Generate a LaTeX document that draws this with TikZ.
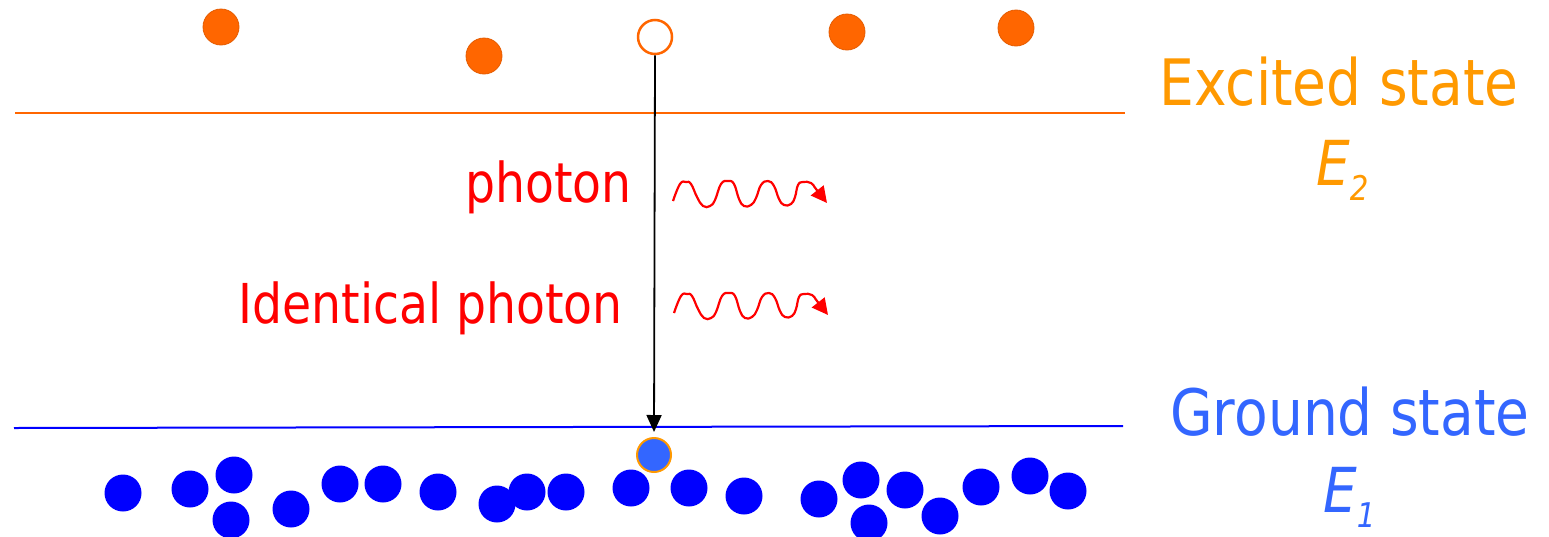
\documentclass[tikz,border=0pt]{standalone}
\usepackage{fontspec}
\newfontfamily\tah[FakeStretch=0.86]{DejaVu Sans}
\usetikzlibrary{arrows.meta}
\definecolor{dotorange}{HTML}{FF6600}
\definecolor{txtorange}{HTML}{FF9900}
\definecolor{txtblue}{HTML}{3366FF}
\definecolor{dotblue}{HTML}{0000FF}
\definecolor{phred}{HTML}{FF0000}
\tikzset{
  hotdot/.style={circle, fill=dotorange, draw=dotorange!90!black, line width=0.8pt, minimum size=36pt, inner sep=0pt},
  emptydot/.style={circle, draw=dotorange, fill=white, line width=2.5pt, minimum size=34pt, inner sep=0pt},
  colddot/.style={circle, fill=dotblue, minimum size=37pt, inner sep=0pt},
  ringdot/.style={circle, fill=txtblue, draw=txtorange, line width=2pt, minimum size=34pt, inner sep=0pt},
  bigtxt/.style={font=\tah\fontsize{64}{70}\selectfont, inner sep=0pt},
  redtxt/.style={font=\tah\fontsize{55}{60}\selectfont, text=phred, inner sep=0pt},
  wave/.style={draw=phred, line width=2.2pt, -{Triangle[width=16pt,length=16pt]}},
}
\newcommand{\wavepts}{(0,0) (7,-17) (13,-19) (18,-17) (24,-4) (30,5) (37,5) (42,-1) (48,-17) (55,-20) (61,-17) (66,-2) (71,5) (78,4) (83,-3) (88,-16) (95,-20) (101,-15) (106,-2) (111,4) (118,3) (122,-4) (125,-16) (130,-19) (138,-18) (143,-12) (154,2)}
\begin{document}
\begin{tikzpicture}[x=1pt, y=-1pt]
\path[use as bounding box, fill=white] (0,0) rectangle (1549,536);

% energy levels
\coordinate (e2l) at (15,113);
\coordinate (e2r) at (1125,113);
\coordinate (e1l) at (14,428);
\coordinate (e1r) at (1123,426);
\draw[dotorange, line width=2pt] (e2l) -- (e2r);
\draw[dotblue, line width=2pt] (e1l) -- (e1r);

% excited atoms
\node[hotdot] (a1) at (221,27) {};
\node[hotdot] (a2) at (484,56) {};
\node[hotdot] (a3) at (847,32) {};
\node[hotdot] (a4) at (1016,28) {};
\node[emptydot] (a0) at (655,37) {};

% ground atoms
\node[colddot] (g1) at (123,493) {};
\node[colddot] (g2) at (190,489) {};
\node[colddot] (g3) at (234,475) {};
\node[colddot] (g4) at (231,520) {};
\node[colddot] (g5) at (291,509) {};
\node[colddot] (g6) at (340,484) {};
\node[colddot] (g7) at (383,484) {};
\node[colddot] (g8) at (438,492) {};
\node[colddot] (g9) at (497,504) {};
\node[colddot] (g10) at (527,492) {};
\node[colddot] (g11) at (566,492) {};
\node[colddot] (g12) at (631,488) {};
\node[colddot] (g13) at (689,488) {};
\node[colddot] (g14) at (744,496) {};
\node[colddot] (g15) at (819,499) {};
\node[colddot] (g16) at (861,480) {};
\node[colddot] (g17) at (869,523) {};
\node[colddot] (g18) at (905,490) {};
\node[colddot] (g19) at (940,516) {};
\node[colddot] (g20) at (981,487) {};
\node[colddot] (g21) at (1030,476) {};
\node[colddot] (g22) at (1068,491) {};
\node[ringdot] (g0) at (654,455) {};

% transition
\draw[line width=1.8pt, -{Triangle[width=15pt,length=17pt]}, shorten >=5pt] (a0.south) -- (g0.north);

% photons
\node[redtxt, anchor=base east] (ph1) at (632,202) {photon};
\node[redtxt, anchor=base east] (ph2) at (623,323) {Identical photon};
\begin{scope}[shift={(673,201)}]
\draw[wave] plot[smooth, tension=0.75] coordinates {\wavepts};
\end{scope}
\begin{scope}[shift={(674,313)}]
\draw[wave] plot[smooth, tension=0.75] coordinates {\wavepts};
\end{scope}

% labels
\node[bigtxt, text=txtorange, anchor=base] (ex) at (1339,105) {Excited state};
\node[text=txtorange, inner sep=0pt, anchor=base west] (e2) at (1316,185) {\tah\itshape\fontsize{62}{66}\selectfont E\raisebox{-15pt}{\fontsize{34}{36}\selectfont 2}};
\node[bigtxt, text=txtblue, anchor=base] (gr) at (1350,435) {Ground state};
\node[text=txtblue, inner sep=0pt, anchor=base west] (e1) at (1323,512) {\tah\itshape\fontsize{62}{66}\selectfont E\raisebox{-15pt}{\fontsize{34}{36}\selectfont 1}};
\end{tikzpicture}
\end{document}
